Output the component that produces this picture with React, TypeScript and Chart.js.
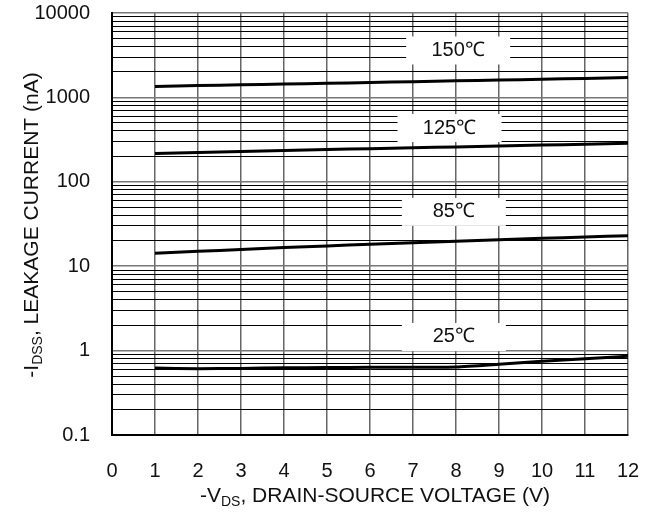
import React, { useEffect, useRef } from "react";
import { Chart, registerables } from "chart.js";

Chart.register(...registerables);

const vds = [1, 2, 3, 4, 5, 6, 7, 8, 9, 10, 11, 12];
const i150 = [1350, 1380, 1410, 1440, 1470, 1500, 1535, 1570, 1605, 1640, 1680, 1720];
const i125 = [217, 223, 229, 235, 241, 247, 253, 259, 265, 272, 279, 286];
const i85 = [14.2, 15.0, 15.8, 16.6, 17.4, 18.2, 19.0, 19.8, 20.6, 21.4, 22.2, 23.0];
const i25 = [0.62, 0.61, 0.615, 0.625, 0.63, 0.635, 0.635, 0.64, 0.69, 0.75, 0.8, 0.86];
const tempLabels = ["150℃", "125℃", "85℃", "25℃"];
const labelY = [3600, 434, 44, 1.45];
const labelX = [8.05, 7.85, 7.95, 7.95];
const xTicks = [0, 1, 2, 3, 4, 5, 6, 7, 8, 9, 10, 11, 12];
const decades = [0.1, 1, 10, 100, 1000, 10000];

const FONT = "'Liberation Sans', Arial, sans-serif";
const FS = 20;

const isDecade = (v: number) => decades.some((d) => Math.abs(v - d) / d < 1e-6);

const toPts = (arr: number[]) => arr.map((y, i) => ({ x: vds[i], y }));

function drawSub(ctx: CanvasRenderingContext2D, parts: [string, boolean][], cx: number, cy: number) {
  const big = `21px ${FONT}`;
  const small = `14px ${FONT}`;
  let total = 0;
  for (const [t, sub] of parts) {
    ctx.font = sub ? small : big;
    total += ctx.measureText(t).width;
  }
  let x = cx - total / 2;
  ctx.textAlign = "left";
  ctx.textBaseline = "middle";
  for (const [t, sub] of parts) {
    ctx.font = sub ? small : big;
    ctx.fillText(t, x, sub ? cy + 6 : cy);
    x += ctx.measureText(t).width;
  }
}

const overlay = {
  id: "overlay",
  beforeDatasetsDraw(chart: any) {
    const { ctx, scales } = chart;
    ctx.save();
    tempLabels.forEach((t, i) => {
      const cx = scales.x.getPixelForValue(labelX[i]);
      const cy = scales.y.getPixelForValue(labelY[i]);
      ctx.fillStyle = "#fff";
      ctx.fillRect(cx - 52, cy - 14, 104, 28);
      ctx.fillStyle = "#111";
      ctx.font = `${FS}px ${FONT}`;
      ctx.textAlign = "center";
      ctx.textBaseline = "middle";
      ctx.fillText(t, cx, cy);
    });
    ctx.restore();
  },
  afterDraw(chart: any) {
    const { ctx } = chart;
    ctx.save();
    ctx.fillStyle = "#111";
    drawSub(ctx, [["-V", false], ["DS", true], [", DRAIN-SOURCE VOLTAGE (V)", false]], 375, 496);
    ctx.translate(32, 225);
    ctx.rotate(-Math.PI / 2);
    drawSub(ctx, [["-I", false], ["DSS", true], [", LEAKAGE CURRENT (nA)", false]], 0, 0);
    ctx.restore();
  },
};

export default function App() {
  const ref = useRef<HTMLCanvasElement>(null);
  useEffect(() => {
    if (!ref.current) return;
    const mk = (data: number[]) => ({
      data: toPts(data),
      borderColor: "#000",
      borderWidth: 3,
      pointRadius: 0,
      tension: 0.2,
      fill: false,
    });
    const chart = new Chart(ref.current, {
      type: "line",
      data: { datasets: [mk(i150), mk(i125), mk(i85), mk(i25)] },
      plugins: [overlay],
      options: {
        animation: false,
        responsive: false,
        devicePixelRatio: 1,
        layout: { padding: { top: 13, right: 29, left: 0, bottom: 0 } },
        plugins: { legend: { display: false }, tooltip: { enabled: false } },
        scales: {
          x: {
            type: "linear",
            min: 0,
            max: 12,
            afterBuildTicks: (axis: any) => {
              axis.ticks = xTicks.map((v) => ({ value: v }));
            },
            afterFit: (axis: any) => {
              axis.height = 79;
              axis.paddingLeft = 0;
              axis.paddingRight = 0;
            },
            ticks: {
              color: "#111",
              font: { family: FONT, size: FS },
              padding: 24,
              maxRotation: 0,
              autoSkip: false,
            },
            grid: { color: "#666", lineWidth: 1.5, drawTicks: false },
            border: { color: "#000", width: 2 },
          },
          y: {
            type: "logarithmic",
            min: 0.1,
            max: 10000,
            afterBuildTicks: (axis: any) => {
              const t: { value: number }[] = [];
              for (let e = -1; e <= 4; e++) {
                for (let m = 1; m <= 9; m++) {
                  const v = m * Math.pow(10, e);
                  if (v <= 10000 * 1.0001) t.push({ value: parseFloat(v.toPrecision(6)) });
                }
              }
              axis.ticks = t;
            },
            afterFit: (axis: any) => {
              axis.width = 112;
              axis.paddingTop = 0;
              axis.paddingBottom = 0;
            },
            ticks: {
              autoSkip: false,
              color: "#111",
              font: { family: FONT, size: FS },
              padding: 22,
              callback: (v: any) => (isDecade(Number(v)) ? String(Number(v)) : ""),
            },
            grid: {
              drawTicks: false,
              color: (c: any) => (c.tick && isDecade(c.tick.value) ? "#777" : "#000"),
              lineWidth: (c: any) => (c.tick && isDecade(c.tick.value) ? 1.5 : 1),
            },
            border: { color: "#000", width: 2 },
          },
        },
      },
    });
    return () => chart.destroy();
  }, []);
  return (
    <div style={{ position: "fixed", left: 0, top: 0, width: 657, height: 514, background: "#fff" }}>
      <canvas ref={ref} width={657} height={514} style={{ display: "block" }} />
    </div>
  );
}
